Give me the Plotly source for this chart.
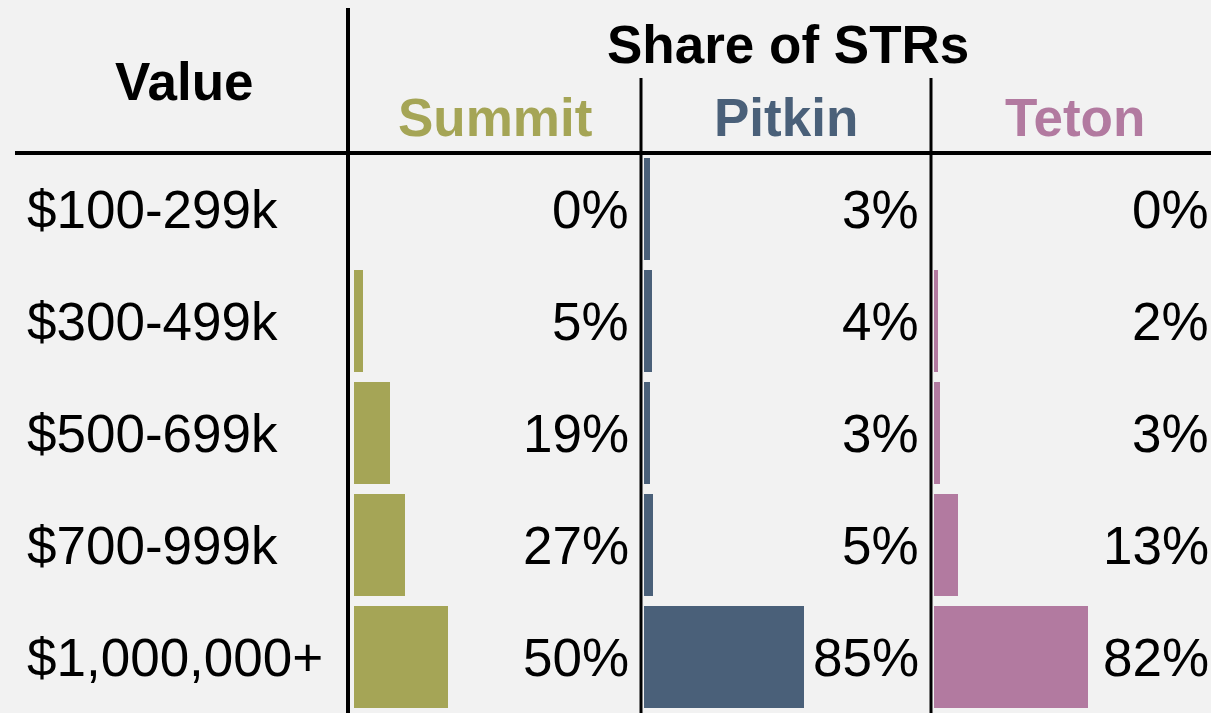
import plotly.graph_objects as go

categories = ["$100-299k", "$300-499k", "$500-699k", "$700-999k", "$1,000,000+"]
counties = ["Summit", "Pitkin", "Teton"]
summit = [0, 5, 19, 27, 50]
pitkin = [3, 4, 3, 5, 85]
teton = [0, 2, 3, 13, 82]
values = [summit, pitkin, teton]
colors = ["#a5a556", "#4a6079", "#b27aa0"]

W, H = 1211, 713
FONT = "Liberation Sans, Arial, sans-serif"
FS = 53

def px(x):
    return x / W

def py(y):
    return 1 - y / H

col_starts = [354, 644, 934]
col_width = 277
XMAX = col_width / 1.88

fig = go.Figure()
annotations = []
layout_axes = {}
for i, (name, vals, col, x0) in enumerate(zip(counties, values, colors, col_starts)):
    xa = "x" if i == 0 else f"x{i+1}"
    fig.add_trace(go.Bar(
        x=vals, y=categories, orientation="h", marker=dict(color=col, line=dict(width=0)),
        width=0.91, xaxis=xa, yaxis="y", showlegend=False, hoverinfo="skip",
    ))
    key = "xaxis" if i == 0 else f"xaxis{i+1}"
    layout_axes[key] = dict(domain=[px(x0), min(1, px(x0 + col_width))], range=[0, XMAX],
                            visible=False, fixedrange=True)
    for c, v in zip(categories, vals):
        annotations.append(dict(x=XMAX, y=c, xref=xa, yref="y", text=f"{v}%",
                                xanchor="right", yanchor="middle", showarrow=False,
                                font=dict(family=FONT, size=FS, color="black")))

for c in categories:
    annotations.append(dict(x=px(25), y=c, xref="paper", yref="y", text=c,
                            xanchor="left", yanchor="middle", showarrow=False,
                            font=dict(family=FONT, size=FS, color="black")))

# headers
annotations.append(dict(x=px(184), y=py(81), xref="paper", yref="paper", text="<b>Value</b>",
                        xanchor="center", yanchor="middle", showarrow=False,
                        font=dict(family=FONT, size=FS, color="black")))
annotations.append(dict(x=px(788), y=py(44), xref="paper", yref="paper", text="<b>Share of STRs</b>",
                        xanchor="center", yanchor="middle", showarrow=False,
                        font=dict(family=FONT, size=FS, color="black")))
for name, col, cx in zip(counties, colors, [495, 786, 1075]):
    annotations.append(dict(x=px(cx), y=py(117), xref="paper", yref="paper", text=f"<b>{name}</b>",
                            xanchor="center", yanchor="middle", showarrow=False,
                            font=dict(family=FONT, size=FS, color=col)))

shapes = [
    dict(type="line", xref="paper", yref="paper", x0=px(348), x1=px(348), y0=py(8), y1=py(713),
         line=dict(color="black", width=4)),
    dict(type="line", xref="paper", yref="paper", x0=px(15), x1=px(1211), y0=py(153), y1=py(153),
         line=dict(color="black", width=4)),
    dict(type="line", xref="paper", yref="paper", x0=px(641), x1=px(641), y0=py(78), y1=py(713),
         line=dict(color="black", width=3)),
    dict(type="line", xref="paper", yref="paper", x0=px(931), x1=px(931), y0=py(78), y1=py(713),
         line=dict(color="black", width=3)),
]

fig.update_layout(
    width=W, height=H,
    margin=dict(l=0, r=0, t=0, b=0),
    paper_bgcolor="#f2f2f2", plot_bgcolor="#f2f2f2",
    yaxis=dict(domain=[0, py(153)], range=[4.5, -0.5], type="category",
               categoryorder="array", categoryarray=categories, visible=False, fixedrange=True),
    annotations=annotations, shapes=shapes, bargap=0,
    **layout_axes,
)

fig.write_html("out.html", config={"displayModeBar": False},
               post_script="document.body.style.margin='0';document.body.style.background='#f2f2f2';")
